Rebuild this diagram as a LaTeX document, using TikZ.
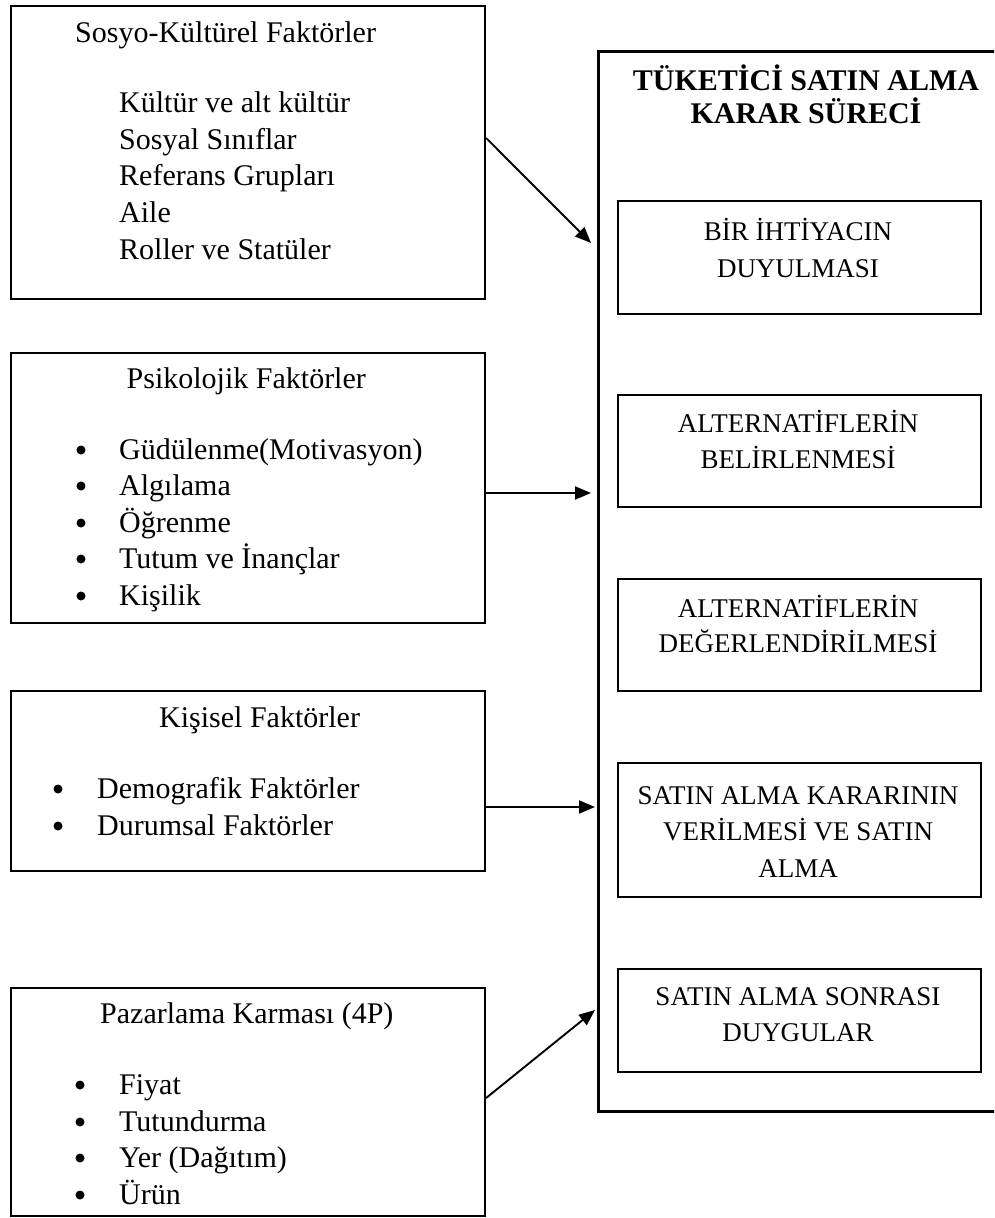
\documentclass[tikz,border=0pt]{standalone}
\usepackage{fontspec}
\setmainfont{Liberation Serif}
\usetikzlibrary{arrows.meta}
\begin{document}
\begin{tikzpicture}[x=1pt,y=-1pt,
  box/.style={draw, line width=2.1pt, rectangle, inner sep=0pt, anchor=north west},
  lt/.style={font=\fontsize{30}{36}\selectfont, anchor=base west, inner sep=0pt},
  ct/.style={font=\fontsize{27}{34}\selectfont, anchor=base, inner sep=0pt},
  tt/.style={font=\fontsize{30}{36}\selectfont\bfseries, anchor=base, inner sep=0pt},
  arr/.style={line width=1.9pt, -{Triangle[length=16pt,width=13pt]}},
  bul/.style={circle, fill, inner sep=0pt, minimum size=9pt}
]
\clip (0,0) rectangle (994,1218);
\fill[white] (0,0) rectangle (994,1218);

% left boxes
\node[box, minimum width=474pt, minimum height=293pt] (sosyo) at (10,5) {};
\node[box, minimum width=474pt, minimum height=270pt] (psik) at (10,352) {};
\node[box, minimum width=474pt, minimum height=180pt] (kis) at (10,690) {};
\node[box, minimum width=474pt, minimum height=228pt] (pazar) at (10,987) {};

% big box and inner boxes
\node[box, line width=2.5pt, minimum width=420pt, minimum height=1060pt] (big) at (597,50) {};
\node[box, minimum width=363pt, minimum height=113pt] (b1) at (617,200) {};
\node[box, minimum width=363pt, minimum height=112pt] (b2) at (617,394) {};
\node[box, minimum width=363pt, minimum height=112pt] (b3) at (617,578) {};
\node[box, minimum width=363pt, minimum height=134pt] (b4) at (617,762) {};
\node[box, minimum width=363pt, minimum height=103pt] (b5) at (617,968) {};

% Sosyo-Kulturel
\node[lt] (st) at (75,42) {Sosyo-Kültürel Faktörler};
\node[lt] (s1) at (119,112) {Kültür ve alt kültür};
\node[lt] (s2) at (119,149) {Sosyal Sınıflar};
\node[lt] (s3) at (119,185) {Referans Grupları};
\node[lt] (s4) at (119,222) {Aile};
\node[lt] (s5) at (119,259) {Roller ve Statüler};

% Psikolojik
\node[lt] (pt) at (126.5,388) {Psikolojik Faktörler};
\node[lt] (p1) at (119,459) {Güdülenme(Motivasyon)};
\node[lt] (p2) at (119,495) {Algılama};
\node[lt] (p3) at (119,532) {Öğrenme};
\node[lt] (p4) at (119,568) {Tutum ve İnançlar};
\node[lt] (p5) at (119,605) {Kişilik};
\foreach \i/\y in {1/459,2/495,3/532,4/568,5/605}
  \node[bul] (pb\i) at (81,\y-9) {};

% Kisisel
\node[lt] (kt) at (159,727) {Kişisel Faktörler};
\node[lt] (k1) at (97,798) {Demografik Faktörler};
\node[lt] (k2) at (97,835) {Durumsal Faktörler};
\foreach \i/\y in {1/798,2/835}
  \node[bul] (kb\i) at (58,\y-9) {};

% Pazarlama
\node[lt] (zt) at (100,1023) {Pazarlama Karması (4P)};
\node[lt] (z1) at (119,1094) {Fiyat};
\node[lt] (z2) at (119,1131) {Tutundurma};
\node[lt] (z3) at (119,1167) {Yer (Dağıtım)};
\node[lt] (z4) at (119,1204) {Ürün};
\foreach \i/\y in {1/1094,2/1131,3/1167,4/1204}
  \node[bul] (zb\i) at (80,\y-9) {};

% right title
\node[tt] (rt1) at (806,90) {TÜKETİCİ SATIN ALMA};
\node[tt] (rt2) at (806,123) {KARAR SÜRECİ};

% inner texts
\node[ct] (b1a) at (798,240) {BİR İHTİYACIN};
\node[ct] (b1b) at (798,277) {DUYULMASI};
\node[ct] (b2a) at (798,432) {ALTERNATİFLERİN};
\node[ct] (b2b) at (798,468) {BELİRLENMESİ};
\node[ct] (b3a) at (798,617) {ALTERNATİFLERİN};
\node[ct] (b3b) at (798,652) {DEĞERLENDİRİLMESİ};
\node[ct] (b4a) at (798,804) {SATIN ALMA KARARININ};
\node[ct] (b4b) at (798,840) {VERİLMESİ VE SATIN};
\node[ct] (b4c) at (798,877) {ALMA};
\node[ct] (b5a) at (798,1005) {SATIN ALMA SONRASI};
\node[ct] (b5b) at (798,1041) {DUYGULAR};

% arrows
\coordinate (a1s) at (484,138);
\coordinate (a1t) at (591,243);
\coordinate (a2t) at (591,493);
\coordinate (a3t) at (595,807);
\coordinate (a4s) at (484,1098);
\coordinate (a4t) at (595,1010);
\draw[arr] (sosyo.east |- a1s) -- (a1t);
\draw[arr] (psik.east |- a2t) -- (a2t);
\draw[arr] (kis.east |- a3t) -- (a3t);
\draw[arr] (pazar.east |- a4s) -- (a4t);
\end{tikzpicture}
\end{document}
